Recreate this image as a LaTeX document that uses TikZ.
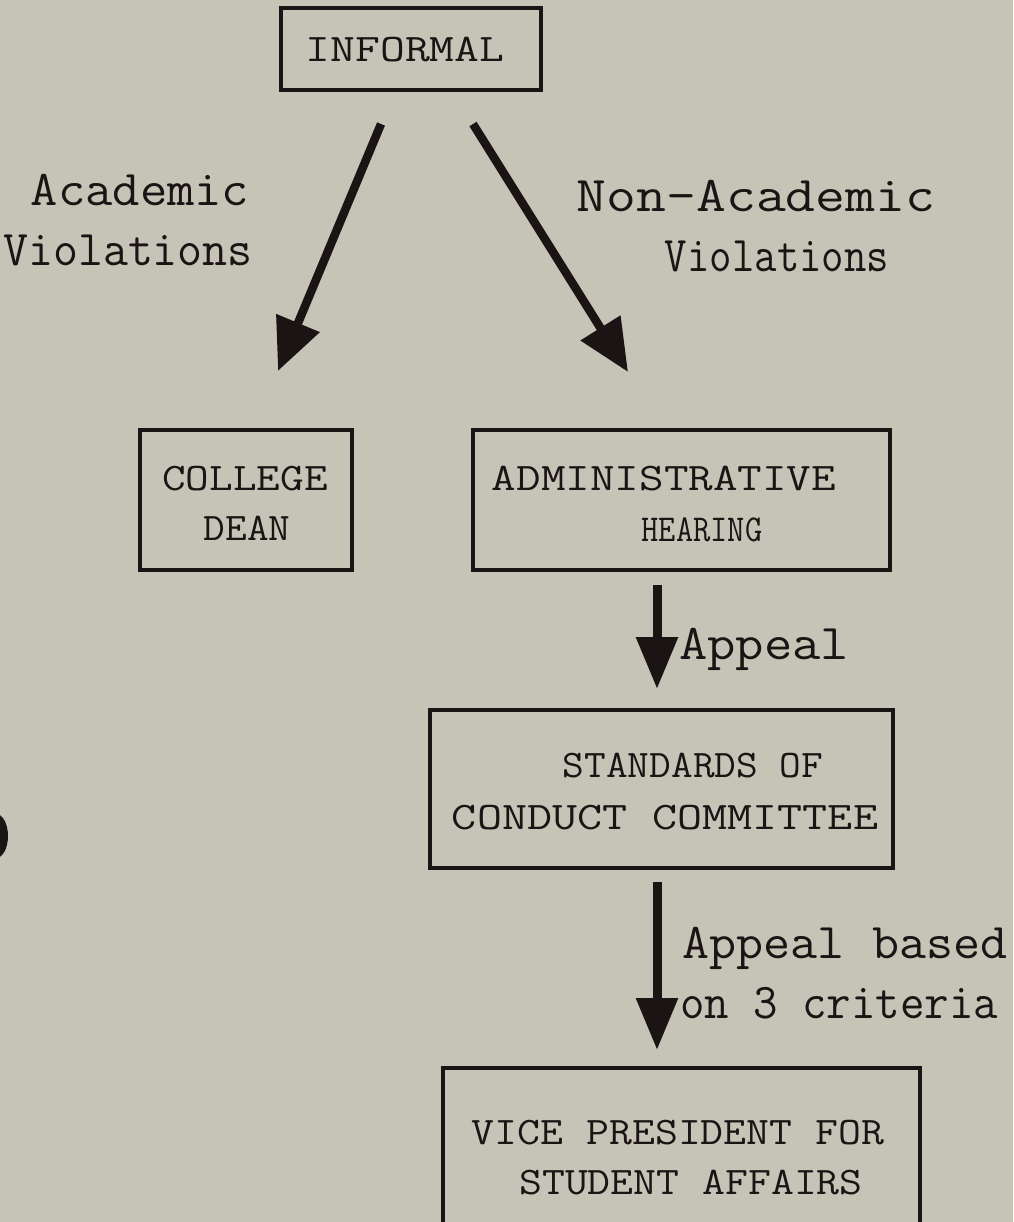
\documentclass[tikz,border=0pt]{standalone}
\usepackage{fontspec}
\usetikzlibrary{arrows.meta}
\newfontfamily\boxfont[FakeStretch=1.2]{Latin Modern Mono}
\newfontfamily\condfont[FakeStretch=0.88]{Latin Modern Mono}
\newfontfamily\lblfont{Latin Modern Mono}
\definecolor{paper}{RGB}{198,196,182}
\definecolor{ink}{RGB}{26,20,20}
\newcommand{\sx}[2]{\scalebox{#1}[1]{#2}}
\begin{document}
\begin{tikzpicture}[x=1pt,y=-1pt,
  box/.style={draw=ink, line width=3.2pt, rectangle, inner sep=0pt},
  boxtxt/.style={text=ink, anchor=base, inner sep=0pt, font=\boxfont\fontsize{39}{39}\selectfont},
  lbltxt/.style={text=ink, anchor=base, inner sep=0pt, font=\lblfont\fontsize{50}{50}\selectfont},
  diagarrow/.style={draw=ink, line width=8.5pt, -{Triangle[length=52pt,width=45pt]}},
  vertarrow/.style={draw=ink, line width=9pt, -{Triangle[length=52pt,width=40pt]}}]
\useasboundingbox (0,0) rectangle (1013,1222);
\fill[paper] (0,0) rectangle (1013,1222);
\begin{scope}
\clip (0,0) rectangle (1013,1222);
\fill[ink] (-4,836) ellipse [x radius=12, y radius=22];
% boxes
\node[box, minimum width=260pt, minimum height=82pt] (informal) at (411,49) {};
\node[box, minimum width=212pt, minimum height=140pt] (dean) at (246,500) {};
\node[box, minimum width=417pt, minimum height=140pt] (admin) at (681.5,500) {};
\node[box, minimum width=463pt, minimum height=158pt] (stand) at (661.5,789) {};
\node[box, minimum width=477pt, minimum height=180pt] (vp) at (681.5,1158) {};
% box texts
\node[boxtxt] (tInformal) at (405,62) {\sx{1.03}{INFORMAL}};
\node[boxtxt] (tCollege) at (245,490) {\sx{0.98}{COLLEGE}};
\node[boxtxt] (tDean) at (247,540) {\sx{0.9}{DEAN}};
\node[boxtxt] (tAdmin) at (664,490) {\sx{1.02}{ADMINISTRATIVE}};
\node[boxtxt, font=\condfont\fontsize{38}{38}\selectfont] (tHearing) at (702,541) {HEARING};
\node[boxtxt] (tStand) at (693,777) {\sx{0.9}{STANDARDS OF}};
\node[boxtxt] (tConduct) at (665,829) {\sx{1.04}{CONDUCT COMMITTEE}};
\node[boxtxt] (tVice) at (678,1144) {\sx{0.95}{VICE PRESIDENT FOR}};
\node[boxtxt] (tStudent) at (691,1194) {\sx{0.95}{STUDENT AFFAIRS}};
% labels
\node[lbltxt] (lAcad) at (140,206) {\sx{1.06}{Academic}};
\node[lbltxt] (lViol) at (128,266) {\sx{0.97}{Violations}};
\node[lbltxt] (lNonAcad) at (756,212) {\sx{1.16}{Non-Academic}};
\node[lbltxt] (lViol2) at (777,272) {\sx{0.87}{Violations}};
\node[lbltxt] (lAppeal) at (764,659) {\sx{1.1}{Appeal}};
\node[lbltxt] (lBased) at (845,958) {\sx{1.05}{Appeal based}};
\node[lbltxt] (lCrit) at (839,1018) {\sx{0.95}{on 3 criteria}};
% arrow ends
\coordinate (aS) at (381,124);
\coordinate (aE) at (278,371);
\coordinate (nS) at (473,124);
\coordinate (nE) at (628,372);
\coordinate (p1S) at (657,585);
\coordinate (p1E) at (657,689);
\coordinate (p2S) at (657,882);
\coordinate (p2E) at (657,1050);
\draw[diagarrow] (aS) -- (aE);
\draw[diagarrow] (nS) -- (nE);
\draw[vertarrow] (p1S) -- (p1E);
\draw[vertarrow] (p2S) -- (p2E);
\end{scope}
\end{tikzpicture}
\end{document}
